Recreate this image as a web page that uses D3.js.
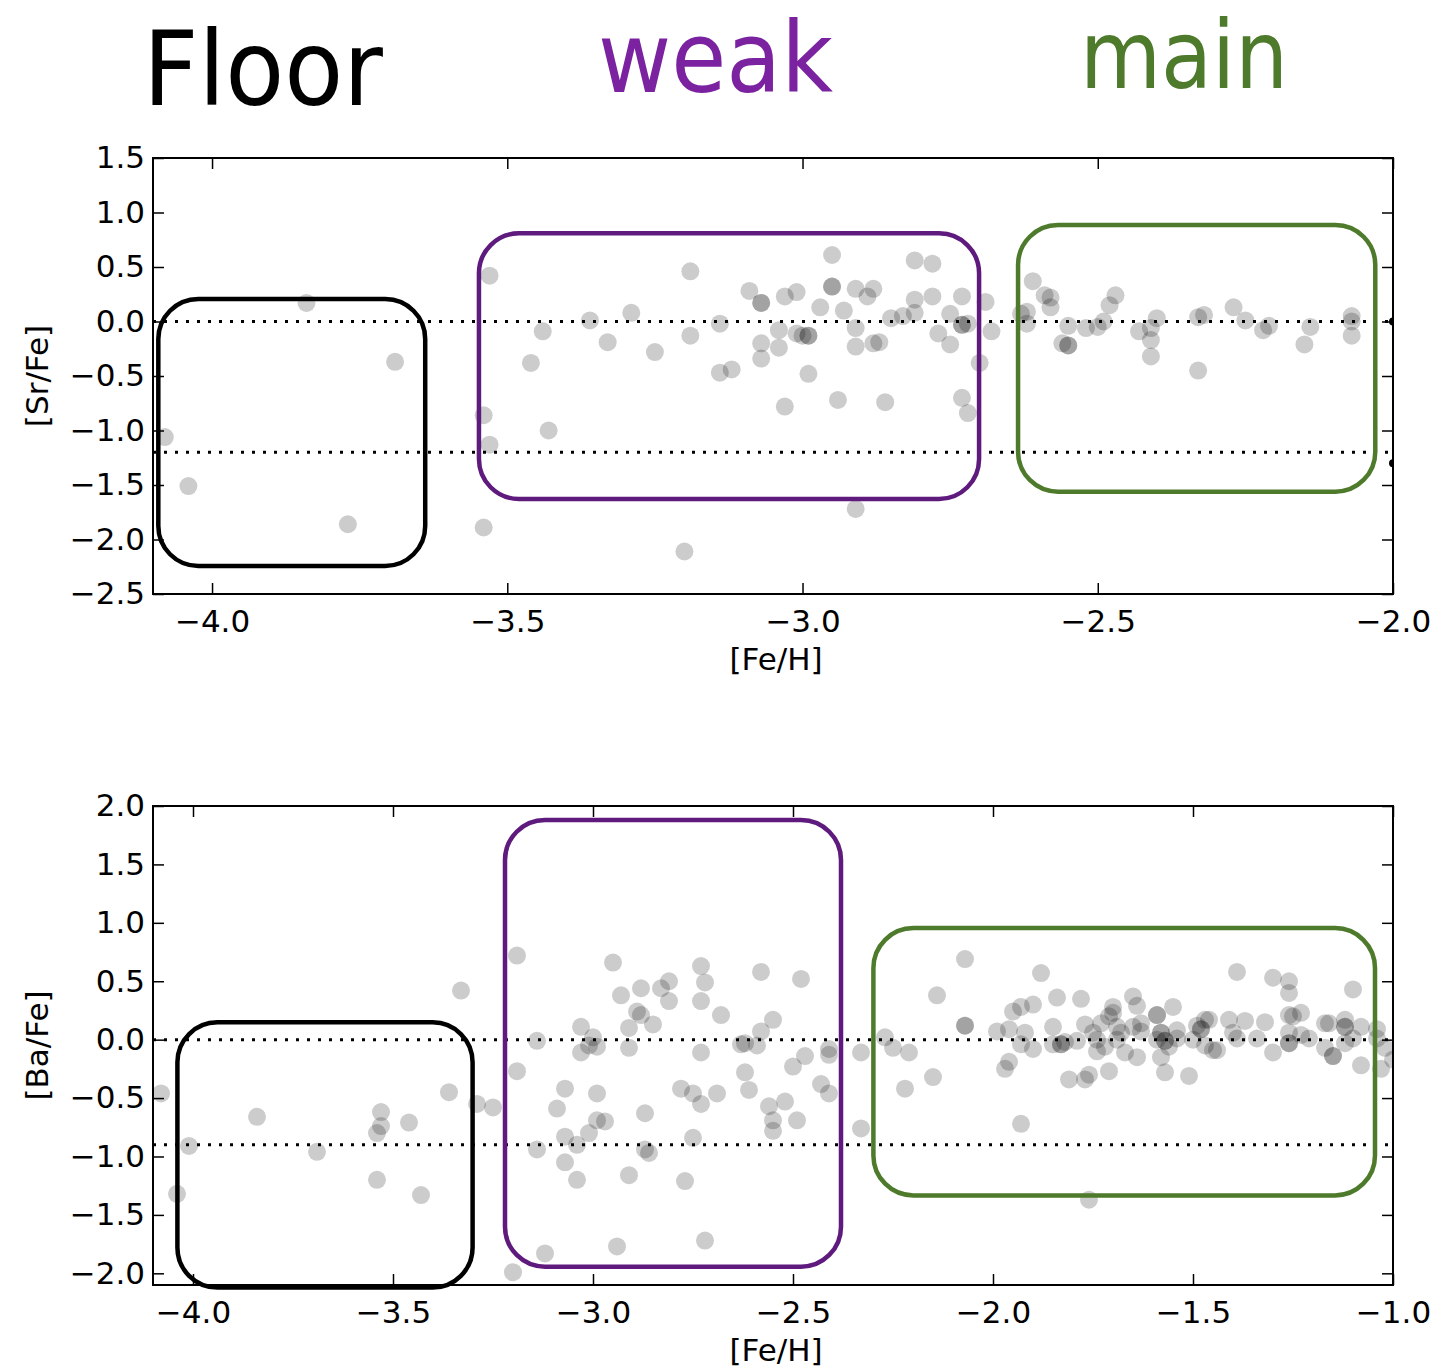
<!DOCTYPE html>
<html><head><meta charset="utf-8">
<script src="https://cdn.jsdelivr.net/npm/d3@7"></script>
<style>body{margin:0;background:#fff}</style>
</head><body>
<svg id="c" width="1455" height="1369"></svg>
<script>
// ---------- DATA ----------
const titles = ["Floor", "weak", "main"];
const titleColors = ["#000000", "#7B22A0", "#4E7A2B"];

// top panel: [Fe/H], [Sr/Fe]
const srPoints = [
[-3.84,0.17],[-3.69,-0.37],[-4.08,-1.06],[-4.04,-1.51],[-3.77,-1.86],
[-3.53,0.42],[-3.54,-0.86],[-3.53,-1.13],[-3.54,-1.89],
[-3.19,0.46],[-2.95,0.61],[-2.81,0.56],[-2.78,0.53],[-3.09,0.28],[-3.07,0.17],[-3.07,0.17],[-3.03,0.23],[-3.01,0.27],[-2.95,0.32],[-2.95,0.32],[-2.91,0.30],[-2.88,0.30],[-2.89,0.23],[-2.97,0.13],[-2.93,0.10],[-2.81,0.20],[-2.78,0.23],[-2.73,0.23],[-2.69,0.18],[-2.85,0.03],[-2.83,0.05],[-2.81,0.08],[-2.75,0.07],[-2.73,-0.03],[-2.73,-0.03],[-2.72,-0.02],[-2.68,-0.09],[-2.77,-0.11],[-2.75,-0.21],[-2.70,-0.38],[-2.73,-0.70],[-2.72,-0.84],[-2.91,-0.06],[-2.91,-0.23],[-2.88,-0.20],[-2.87,-0.19],[-2.94,-0.72],[-2.86,-0.74],[-2.91,-1.72],[-3.04,-0.08],[-3.01,-0.11],[-3.00,-0.13],[-2.99,-0.13],[-2.99,-0.13],[-3.07,-0.20],[-3.04,-0.24],[-3.07,-0.34],[-2.99,-0.48],[-3.03,-0.78],[-3.14,-0.02],[-3.14,-0.47],[-3.12,-0.44],[-3.19,-0.13],[-3.25,-0.28],[-3.29,0.08],[-3.36,0.01],[-3.33,-0.19],[-3.44,-0.09],[-3.46,-0.38],[-3.43,-1.00],[-3.20,-2.11],
[-2.61,0.37],[-2.63,0.07],[-2.62,0.09],[-2.62,-0.02],[-2.59,0.24],[-2.58,0.22],[-2.58,0.13],[-2.55,-0.04],[-2.56,-0.20],[-2.55,-0.22],[-2.55,-0.22],[-2.52,-0.06],[-2.50,-0.05],[-2.49,0.00],[-2.48,0.15],[-2.47,0.24],[-2.43,-0.09],[-2.41,-0.06],[-2.40,0.03],[-2.41,-0.17],[-2.41,-0.32],[-2.33,0.04],[-2.32,0.06],[-2.33,-0.45],[-2.27,0.13],[-2.25,0.01],[-2.22,-0.08],[-2.21,-0.04],[-2.14,-0.05],[-2.15,-0.21],[-2.07,0.05],[-2.07,0.00],[-2.07,-0.13]
];
const srEdgeMarks = [[-2.0,0.0],[-2.0,-1.30]];
const srLevels = [0.0, -1.2];
const srXTicks = [-4.0,-3.5,-3.0,-2.5,-2.0];
const srYTicks = [-2.5,-2.0,-1.5,-1.0,-0.5,0.0,0.5,1.0,1.5];
// boxes: [x0, x1, y0(top), y1(bottom)] in data units
const srBoxes = [[-4.091,-3.639,0.206,-2.243],[-3.548,-2.701,0.809,-1.628],[-2.635,-2.030,0.885,-1.561]];

// bottom panel: [Fe/H], [Ba/Fe]
const baPoints = [
[-3.33,0.42],[-4.08,-0.46],[-4.01,-0.91],[-4.04,-1.32],[-3.84,-0.66],[-3.69,-0.96],[-3.53,-0.62],[-3.53,-0.74],[-3.54,-0.80],[-3.46,-0.71],[-3.54,-1.20],[-3.43,-1.33],[-3.36,-0.45],[-3.29,-0.55],[-3.25,-0.58],
[-3.19,0.72],[-2.95,0.66],[-2.73,0.63],[-2.58,0.58],[-2.48,0.52],[-2.72,0.49],[-2.81,0.50],[-2.83,0.44],[-2.88,0.44],[-2.93,0.38],[-2.81,0.33],[-2.73,0.33],[-2.89,0.24],[-2.88,0.21],[-2.68,0.21],[-2.85,0.13],[-2.91,0.10],[-3.03,0.11],[-2.55,0.17],[-2.58,0.07],[-3.14,-0.01],[-3.00,0.02],[-3.01,-0.05],[-2.99,-0.06],[-3.03,-0.11],[-2.91,-0.07],[-2.63,-0.04],[-2.62,-0.03],[-2.59,-0.05],[-2.73,-0.11],[-2.41,-0.08],[-2.41,-0.13],[-2.33,-0.11],[-2.47,-0.14],[-2.50,-0.23],[-3.19,-0.27],[-2.62,-0.28],[-3.07,-0.42],[-2.99,-0.46],[-2.78,-0.42],[-2.75,-0.46],[-2.73,-0.55],[-2.69,-0.46],[-2.61,-0.43],[-2.43,-0.38],[-2.41,-0.46],[-3.09,-0.59],[-2.87,-0.63],[-2.56,-0.57],[-2.52,-0.53],[-2.55,-0.69],[-2.55,-0.78],[-2.49,-0.69],[-2.99,-0.69],[-2.97,-0.70],[-3.01,-0.80],[-3.07,-0.83],[-3.04,-0.90],[-3.14,-0.94],[-2.87,-0.94],[-2.86,-0.97],[-2.75,-0.84],[-3.07,-1.05],[-3.04,-1.20],[-2.91,-1.16],[-2.77,-1.21],[-2.72,-1.72],[-2.94,-1.77],[-3.12,-1.83],[-3.20,-1.99],[-2.33,-0.76],
[-2.27,0.02],[-2.25,-0.07],[-2.21,-0.11],[-2.22,-0.42],[-2.15,-0.32],[-2.14,0.38],[-2.07,0.69],[-2.07,0.12],[-2.07,0.12],[-1.93,-0.72],[-1.99,0.07],[-1.96,0.09],[-1.95,0.24],[-1.93,0.28],[-1.90,0.30],[-1.92,0.06],[-1.93,-0.04],[-1.90,-0.08],[-1.96,-0.19],[-1.97,-0.25],[-1.88,0.57],[-1.84,0.36],[-1.78,0.35],[-1.85,0.11],[-1.85,-0.04],[-1.83,-0.04],[-1.83,-0.04],[-1.82,-0.02],[-1.79,-0.01],[-1.77,0.13],[-1.75,0.06],[-1.74,0.00],[-1.81,-0.34],[-1.77,-0.34],[-1.76,-0.30],[-1.74,-0.10],[-1.72,-0.06],[-1.71,-0.27],[-1.73,0.14],[-1.71,0.20],[-1.70,0.28],[-1.70,0.23],[-1.69,0.11],[-1.69,0.00],[-1.68,0.06],[-1.67,-0.11],[-1.65,0.37],[-1.64,0.29],[-1.65,0.11],[-1.63,0.14],[-1.64,-0.15],[-1.63,0.07],[-1.59,0.21],[-1.59,0.21],[-1.55,0.28],[-1.58,0.06],[-1.58,0.06],[-1.57,-0.01],[-1.57,-0.01],[-1.59,0.00],[-1.56,-0.06],[-1.58,-0.15],[-1.57,-0.28],[-1.54,0.08],[-1.54,0.01],[-1.51,-0.31],[-1.50,0.00],[-1.49,0.12],[-1.47,0.17],[-1.46,0.17],[-1.48,0.09],[-1.48,0.09],[-1.47,-0.05],[-1.45,-0.09],[-1.44,-0.09],[-1.41,0.17],[-1.40,0.06],[-1.39,0.01],[-1.39,0.58],[-1.37,0.16],[-1.34,0.01],[-1.32,0.15],[-1.30,0.53],[-1.30,-0.11],[-1.26,0.50],[-1.26,0.40],[-1.26,0.21],[-1.25,0.20],[-1.23,0.23],[-1.26,0.06],[-1.26,-0.03],[-1.26,-0.03],[-1.23,0.04],[-1.21,0.01],[-1.17,0.14],[-1.16,0.14],[-1.17,-0.07],[-1.15,-0.14],[-1.15,-0.14],[-1.12,0.17],[-1.12,0.11],[-1.12,0.11],[-1.12,-0.03],[-1.10,0.43],[-1.10,0.01],[-1.08,0.11],[-1.08,-0.22],[-1.04,0.09],[-1.04,0.01],[-1.03,-0.25],[-1.02,-0.07],[-1.00,-0.17],[-1.76,-1.37]
];
const baLevels = [0.0, -0.9];
const baXTicks = [-4.0,-3.5,-3.0,-2.5,-2.0,-1.5,-1.0];
const baYTicks = [-2.0,-1.5,-1.0,-0.5,0.0,0.5,1.0,1.5,2.0];
const baBoxes = [[-4.039,-3.301,0.148,-2.122],[-3.22,-2.38,1.88,-1.943],[-2.299,-1.045,0.955,-1.333]];

const boxColors = ["#000000", "#5F1A7E", "#4E7A2B"];

// ---------- DRAW ----------
const svg = d3.select("#c");
svg.append("rect").attr("width",1455).attr("height",1369).attr("fill","#fff");

// titles
const titleSpec = [
  {x:143, y:105, size:103, len:240},
  {x:598, y:92, size:98, len:235},
  {x:1080, y:88, size:94, len:208}
];
titles.forEach((t,i)=>{
  svg.append("text").attr("x",titleSpec[i].x).attr("y",titleSpec[i].y)
    .attr("font-family","'DejaVu Sans', sans-serif")
    .attr("font-size",titleSpec[i].size)
    .attr("textLength",titleSpec[i].len).attr("lengthAdjust","spacingAndGlyphs")
    .attr("fill",titleColors[i]).text(t);
});

const fmt = d3.format(".1f");
const FONT = "'DejaVu Sans', sans-serif";

function panel(id, frame, xDom, yDom, pts, levels, xTicks, yTicks, boxes, ylabel, edge){
  const x = d3.scaleLinear().domain(xDom).range([frame.l, frame.r]);
  const y = d3.scaleLinear().domain(yDom).range([frame.b, frame.t]);
  const g = svg.append("g");
  g.append("clipPath").attr("id",id).append("rect")
    .attr("x",frame.l).attr("y",frame.t).attr("width",frame.r-frame.l).attr("height",frame.b-frame.t);
  const pg = g.append("g").attr("clip-path",`url(#${id})`);
  pg.selectAll("circle.p").data(pts).join("circle").attr("class","p")
    .attr("cx",d=>x(d[0])).attr("cy",d=>y(d[1])).attr("r",9)
    .attr("fill","#000").attr("fill-opacity",0.2);
  if(edge){
    pg.selectAll("circle.e").data(edge).join("circle").attr("class","e")
      .attr("cx",d=>x(d[0])).attr("cy",d=>y(d[1])).attr("r",4).attr("fill","#000");
  }
  pg.selectAll("line.lv").data(levels).join("line").attr("class","lv")
    .attr("x1",frame.l).attr("x2",frame.r).attr("y1",d=>y(d)).attr("y2",d=>y(d))
    .attr("stroke","#000").attr("stroke-width",3).attr("stroke-dasharray","3 8");
  // boxes
  g.selectAll("rect.bx").data(boxes).join("rect").attr("class","bx")
    .attr("x",d=>x(d[0])).attr("y",d=>y(d[2]))
    .attr("width",d=>x(d[1])-x(d[0])).attr("height",d=>y(d[3])-y(d[2]))
    .attr("rx",40).attr("ry",40).attr("fill","none")
    .attr("stroke",(d,i)=>boxColors[i]).attr("stroke-width",4.5);
  // axes
  const ax = [
    {a:d3.axisBottom(x).tickValues(xTicks).tickFormat(fmt).tickSize(-11).tickPadding(16), tr:`translate(0,${frame.b})`},
    {a:d3.axisTop(x).tickValues(xTicks).tickFormat("").tickSize(-11), tr:`translate(0,${frame.t})`},
    {a:d3.axisLeft(y).tickValues(yTicks).tickFormat(fmt).tickSize(-11).tickPadding(8), tr:`translate(${frame.l},0)`},
    {a:d3.axisRight(y).tickValues(yTicks).tickFormat("").tickSize(-11), tr:`translate(${frame.r},0)`}
  ];
  ax.forEach(o=>{
    const ag = g.append("g").attr("transform",o.tr).call(o.a);
    ag.select(".domain").remove();
    ag.selectAll(".tick line").attr("stroke","#000").attr("stroke-width",1.5);
    ag.selectAll(".tick text").attr("font-family",FONT).attr("font-size",31).attr("fill","#000");
  });
  g.append("rect").attr("x",frame.l).attr("y",frame.t)
    .attr("width",frame.r-frame.l).attr("height",frame.b-frame.t)
    .attr("fill","none").attr("stroke","#000").attr("stroke-width",2);
  g.append("text").attr("x",(frame.l+frame.r)/2 + 3).attr("y",frame.b+76)
    .attr("text-anchor","middle").attr("font-family",FONT).attr("font-size",31).text("[Fe/H]");
  g.append("text").attr("transform",`translate(48,${(frame.t+frame.b)/2}) rotate(-90)`)
    .attr("text-anchor","middle").attr("font-family",FONT).attr("font-size",31).text(ylabel);
}

panel("clipTop", {l:153,r:1393,t:158,b:594}, [-4.1,-2.0], [-2.5,1.5], srPoints, srLevels, srXTicks, srYTicks, srBoxes, "[Sr/Fe]", srEdgeMarks);
panel("clipBot", {l:153,r:1393,t:806,b:1285}, [-4.1,-1.0], [-2.1,2.0], baPoints, baLevels, baXTicks, baYTicks, baBoxes, "[Ba/Fe]", null);
</script>
</body></html>
